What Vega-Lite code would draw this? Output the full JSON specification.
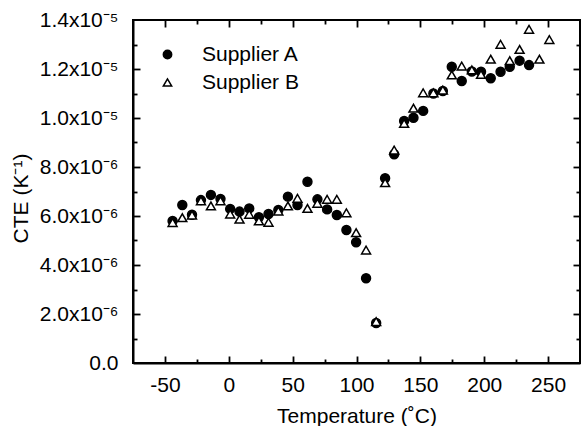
{
  "$schema": "https://vega.github.io/schema/vega-lite/v6.json",
  "width": 447,
  "height": 343,
  "autosize": {"type": "none"},
  "padding": {"left": 133, "top": 20, "right": 1, "bottom": 63},
  "background": "white",
  "config": {
    "font": "Liberation Sans",
    "view": {"stroke": "black", "strokeWidth": 2},
    "axis": {
      "labelFont": "Liberation Sans",
      "titleFont": "Liberation Sans",
      "labelFontSize": 21,
      "titleFontSize": 21,
      "titleFontWeight": "normal",
      "labelColor": "black",
      "titleColor": "black",
      "domainColor": "black",
      "domainWidth": 2,
      "tickColor": "black",
      "tickWidth": 1.8,
      "grid": false
    },
    "legend": {
      "labelFont": "Liberation Sans",
      "labelFontSize": 21,
      "labelColor": "black"
    }
  },
  "datasets": {
    "cte": [
      {"T": -44.0, "CTE": 5.80e-6, "Supplier": "Supplier A"},
      {"T": -36.4, "CTE": 6.45e-6, "Supplier": "Supplier A"},
      {"T": -28.8, "CTE": 6.05e-6, "Supplier": "Supplier A"},
      {"T": -21.8, "CTE": 6.65e-6, "Supplier": "Supplier A"},
      {"T": -14.0, "CTE": 6.86e-6, "Supplier": "Supplier A"},
      {"T": -6.5, "CTE": 6.70e-6, "Supplier": "Supplier A"},
      {"T": 1.1, "CTE": 6.29e-6, "Supplier": "Supplier A"},
      {"T": 8.4, "CTE": 6.18e-6, "Supplier": "Supplier A"},
      {"T": 16.0, "CTE": 6.31e-6, "Supplier": "Supplier A"},
      {"T": 23.6, "CTE": 5.95e-6, "Supplier": "Supplier A"},
      {"T": 31.1, "CTE": 6.08e-6, "Supplier": "Supplier A"},
      {"T": 38.8, "CTE": 6.25e-6, "Supplier": "Supplier A"},
      {"T": 46.3, "CTE": 6.79e-6, "Supplier": "Supplier A"},
      {"T": 53.8, "CTE": 6.45e-6, "Supplier": "Supplier A"},
      {"T": 61.6, "CTE": 7.40e-6, "Supplier": "Supplier A"},
      {"T": 69.4, "CTE": 6.68e-6, "Supplier": "Supplier A"},
      {"T": 77.0, "CTE": 6.27e-6, "Supplier": "Supplier A"},
      {"T": 84.6, "CTE": 6.04e-6, "Supplier": "Supplier A"},
      {"T": 92.1, "CTE": 5.43e-6, "Supplier": "Supplier A"},
      {"T": 99.7, "CTE": 4.93e-6, "Supplier": "Supplier A"},
      {"T": 107.5, "CTE": 3.46e-6, "Supplier": "Supplier A"},
      {"T": 115.4, "CTE": 1.63e-6, "Supplier": "Supplier A"},
      {"T": 122.4, "CTE": 7.54e-6, "Supplier": "Supplier A"},
      {"T": 129.5, "CTE": 8.52e-6, "Supplier": "Supplier A"},
      {"T": 137.3, "CTE": 9.88e-6, "Supplier": "Supplier A"},
      {"T": 144.6, "CTE": 10.01e-6, "Supplier": "Supplier A"},
      {"T": 152.2, "CTE": 10.29e-6, "Supplier": "Supplier A"},
      {"T": 160.2, "CTE": 11.00e-6, "Supplier": "Supplier A"},
      {"T": 167.6, "CTE": 11.10e-6, "Supplier": "Supplier A"},
      {"T": 174.6, "CTE": 12.09e-6, "Supplier": "Supplier A"},
      {"T": 182.4, "CTE": 11.51e-6, "Supplier": "Supplier A"},
      {"T": 190.3, "CTE": 11.90e-6, "Supplier": "Supplier A"},
      {"T": 197.5, "CTE": 11.89e-6, "Supplier": "Supplier A"},
      {"T": 205.1, "CTE": 11.62e-6, "Supplier": "Supplier A"},
      {"T": 212.8, "CTE": 11.89e-6, "Supplier": "Supplier A"},
      {"T": 220.0, "CTE": 12.09e-6, "Supplier": "Supplier A"},
      {"T": 227.7, "CTE": 12.34e-6, "Supplier": "Supplier A"},
      {"T": 235.1, "CTE": 12.16e-6, "Supplier": "Supplier A"},
      {"T": -44.0, "CTE": 5.73e-6, "Supplier": "Supplier B"},
      {"T": -36.4, "CTE": 5.93e-6, "Supplier": "Supplier B"},
      {"T": -28.8, "CTE": 6.04e-6, "Supplier": "Supplier B"},
      {"T": -21.8, "CTE": 6.62e-6, "Supplier": "Supplier B"},
      {"T": -14.0, "CTE": 6.41e-6, "Supplier": "Supplier B"},
      {"T": -6.5, "CTE": 6.62e-6, "Supplier": "Supplier B"},
      {"T": 1.1, "CTE": 6.08e-6, "Supplier": "Supplier B"},
      {"T": 8.4, "CTE": 5.87e-6, "Supplier": "Supplier B"},
      {"T": 16.0, "CTE": 6.07e-6, "Supplier": "Supplier B"},
      {"T": 23.6, "CTE": 5.80e-6, "Supplier": "Supplier B"},
      {"T": 31.1, "CTE": 5.74e-6, "Supplier": "Supplier B"},
      {"T": 38.8, "CTE": 6.20e-6, "Supplier": "Supplier B"},
      {"T": 46.3, "CTE": 6.41e-6, "Supplier": "Supplier B"},
      {"T": 53.8, "CTE": 6.72e-6, "Supplier": "Supplier B"},
      {"T": 61.6, "CTE": 6.31e-6, "Supplier": "Supplier B"},
      {"T": 69.4, "CTE": 6.52e-6, "Supplier": "Supplier B"},
      {"T": 77.0, "CTE": 6.68e-6, "Supplier": "Supplier B"},
      {"T": 84.6, "CTE": 6.68e-6, "Supplier": "Supplier B"},
      {"T": 92.1, "CTE": 6.13e-6, "Supplier": "Supplier B"},
      {"T": 99.7, "CTE": 5.32e-6, "Supplier": "Supplier B"},
      {"T": 107.5, "CTE": 4.61e-6, "Supplier": "Supplier B"},
      {"T": 115.4, "CTE": 1.69e-6, "Supplier": "Supplier B"},
      {"T": 122.4, "CTE": 7.36e-6, "Supplier": "Supplier B"},
      {"T": 129.5, "CTE": 8.69e-6, "Supplier": "Supplier B"},
      {"T": 137.3, "CTE": 9.78e-6, "Supplier": "Supplier B"},
      {"T": 144.6, "CTE": 10.40e-6, "Supplier": "Supplier B"},
      {"T": 152.2, "CTE": 11.03e-6, "Supplier": "Supplier B"},
      {"T": 160.2, "CTE": 11.03e-6, "Supplier": "Supplier B"},
      {"T": 167.6, "CTE": 11.14e-6, "Supplier": "Supplier B"},
      {"T": 174.6, "CTE": 11.76e-6, "Supplier": "Supplier B"},
      {"T": 182.4, "CTE": 12.12e-6, "Supplier": "Supplier B"},
      {"T": 190.3, "CTE": 11.96e-6, "Supplier": "Supplier B"},
      {"T": 197.5, "CTE": 11.78e-6, "Supplier": "Supplier B"},
      {"T": 205.1, "CTE": 12.40e-6, "Supplier": "Supplier B"},
      {"T": 212.8, "CTE": 13.01e-6, "Supplier": "Supplier B"},
      {"T": 220.0, "CTE": 12.34e-6, "Supplier": "Supplier B"},
      {"T": 227.7, "CTE": 12.80e-6, "Supplier": "Supplier B"},
      {"T": 235.1, "CTE": 13.62e-6, "Supplier": "Supplier B"},
      {"T": 243.2, "CTE": 12.40e-6, "Supplier": "Supplier B"},
      {"T": 251.0, "CTE": 13.20e-6, "Supplier": "Supplier B"}
    ]
  },
  "data": {"name": "cte"},
  "layer": [
    {
      "mark": {"type": "point", "filled": true, "strokeWidth": 1.5, "size": 80, "opacity": 1},
      "encoding": {
        "x": {
          "field": "T", "type": "quantitative",
          "scale": {"domain": [-75, 275], "nice": false, "zero": false},
          "axis": {
            "orient": "bottom", "title": "Temperature (˚C)",
            "values": [-50, 0, 50, 100, 150, 200, 250],
            "labelExpr": "'' + datum.value",
            "ticks": false,
            "labelPadding": 11,
            "titlePadding": 10
          }
        },
        "y": {
          "field": "CTE", "type": "quantitative",
          "scale": {"domain": [0, 0.000014], "nice": false, "zero": false},
          "axis": {
            "orient": "left", "title": "CTE (K⁻¹)",
            "values": [0, 0.000002, 0.000004, 0.000006, 0.000008, 0.00001, 0.000012, 0.000014],
            "labelExpr": "round(datum.value*1e6) === 0 ? '0.0' : (round(datum.value*1e6) >= 10 ? format(datum.value*1e5, '.1f') + 'x10⁻⁵' : format(datum.value*1e6, '.1f') + 'x10⁻⁶')",
            "ticks": false,
            "labelPadding": 15,
            "titlePadding": 8,
            "titleY": 178
          }
        },
        "shape": {
          "field": "Supplier", "type": "nominal",
          "scale": {"domain": ["Supplier A", "Supplier B"], "range": ["circle", "triangle-up"]},
          "legend": {
            "title": null, "orient": "none", "legendX": 24, "legendY": 24,
            "padding": 0, "rowPadding": 6, "labelOffset": 24, "symbolSize": 70,
            "symbolStrokeWidth": 1.5
          }
        },
        "fill": {
          "field": "Supplier", "type": "nominal",
          "scale": {"domain": ["Supplier A", "Supplier B"], "range": ["black", "white"]},
          "legend": {
            "title": null, "orient": "none", "legendX": 24, "legendY": 24,
            "padding": 0, "rowPadding": 6, "labelOffset": 24, "symbolSize": 70,
            "symbolStrokeWidth": 1.5
          }
        },
        "stroke": {
          "field": "Supplier", "type": "nominal",
          "scale": {"domain": ["Supplier A", "Supplier B"], "range": ["black", "black"]},
          "legend": {
            "title": null, "orient": "none", "legendX": 24, "legendY": 24,
            "padding": 0, "rowPadding": 6, "labelOffset": 24, "symbolSize": 70,
            "symbolStrokeWidth": 1.5
          }
        }
      }
    },
    {
      "mark": {"type": "point", "size": 1, "fillOpacity": 0, "strokeOpacity": 0},
      "encoding": {
        "x": {
          "field": "T", "type": "quantitative",
          "axis": {
            "orient": "bottom", "title": null, "labels": false, "domain": false,
            "values": [-50, 0, 50, 100, 150, 200, 250],
            "tickSize": 7, "offset": -7
          }
        },
        "y": {
          "field": "CTE", "type": "quantitative",
          "axis": {
            "orient": "left", "title": null, "labels": false, "domain": false,
            "values": [0.000002, 0.000004, 0.000006, 0.000008, 0.00001, 0.000012],
            "tickSize": 7, "offset": -7
          }
        }
      }
    },
    {
      "mark": {"type": "point", "size": 1, "fillOpacity": 0, "strokeOpacity": 0},
      "encoding": {
        "x": {
          "field": "T", "type": "quantitative",
          "axis": {
            "orient": "bottom", "title": null, "labels": false, "domain": false,
            "values": [-25, 25, 75, 125, 175, 225],
            "tickSize": 4, "offset": -4
          }
        },
        "y": {
          "field": "CTE", "type": "quantitative",
          "axis": {
            "orient": "left", "title": null, "labels": false, "domain": false,
            "values": [0.000001, 0.000003, 0.000005, 0.000007, 0.000009, 0.000011, 0.000013],
            "tickSize": 4, "offset": -4
          }
        }
      }
    },
    {
      "mark": {"type": "point", "size": 1, "fillOpacity": 0, "strokeOpacity": 0},
      "encoding": {
        "x": {
          "field": "T", "type": "quantitative",
          "axis": {
            "orient": "top", "title": null, "labels": false, "domain": false,
            "values": [-50, 0, 50, 100, 150, 200, 250],
            "tickSize": 7, "offset": -7
          }
        },
        "y": {
          "field": "CTE", "type": "quantitative",
          "axis": {
            "orient": "right", "title": null, "labels": false, "domain": false,
            "values": [0.000002, 0.000004, 0.000006, 0.000008, 0.00001, 0.000012],
            "tickSize": 7, "offset": -7
          }
        }
      }
    },
    {
      "mark": {"type": "point", "size": 1, "fillOpacity": 0, "strokeOpacity": 0},
      "encoding": {
        "x": {
          "field": "T", "type": "quantitative",
          "axis": {
            "orient": "top", "title": null, "labels": false, "domain": false,
            "values": [-25, 25, 75, 125, 175, 225],
            "tickSize": 4, "offset": -4
          }
        },
        "y": {
          "field": "CTE", "type": "quantitative",
          "axis": {
            "orient": "right", "title": null, "labels": false, "domain": false,
            "values": [0.000001, 0.000003, 0.000005, 0.000007, 0.000009, 0.000011, 0.000013],
            "tickSize": 4, "offset": -4
          }
        }
      }
    }
  ],
  "resolve": {"axis": {"x": "independent", "y": "independent"}}
}
